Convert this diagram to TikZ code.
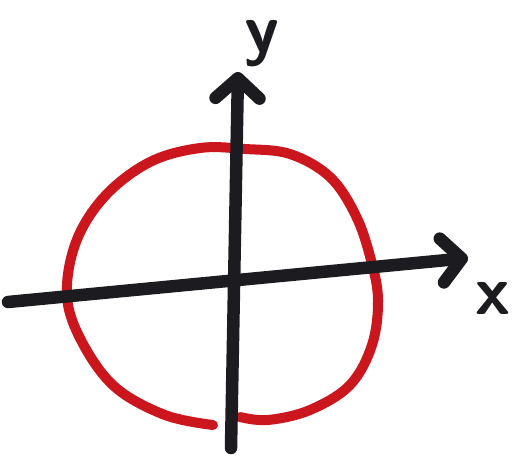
\documentclass[tikz,border=0pt]{standalone}
\usepackage{tikz}
\usetikzlibrary{arrows.meta}
\definecolor{ink}{RGB}{28,28,32}
\definecolor{pen}{RGB}{204,22,30}
\tikzset{
  axis/.style={draw=ink, line width=12.5pt, line cap=round, line join=round,
               -{Straight Barb[length=20pt, width=44pt, round]}},
  ring/.style={draw=pen, line width=10pt, line cap=round, line join=round},
  lbl/.style={text=ink, font=\fontsize{70}{70}\selectfont\sffamily\bfseries, inner sep=0pt},
}

\begin{document}
\begin{tikzpicture}[x=1pt, y=-1pt]
  \useasboundingbox (0,0) rectangle (519,458);
  % red circle, open at the bottom
  \draw[ring] plot[smooth, tension=0.6] coordinates {
    (213,425) (165,415) (115,387) (82,342) (67,296) (76,242) (105,196)
    (150,162) (200,148) (245,149) (290,154) (330,177) (356,216)
    (371,260) (378,300) (372,345) (350,385) (310,410) (268,420) (240,417)};
  % axes
  \coordinate (xs) at (8,302);
  \coordinate (xe) at (468,258);
  \coordinate (ys) at (231,448);
  \coordinate (ye) at (238,72);
  \draw[axis] (xs) -- (xe);
  \draw[axis] (ys) -- (ye);
  \node[lbl, anchor=base] (ylbl) at (262,52) {y};
  \node[lbl] (xlbl) at (493,298) {x};
\end{tikzpicture}
\end{document}
